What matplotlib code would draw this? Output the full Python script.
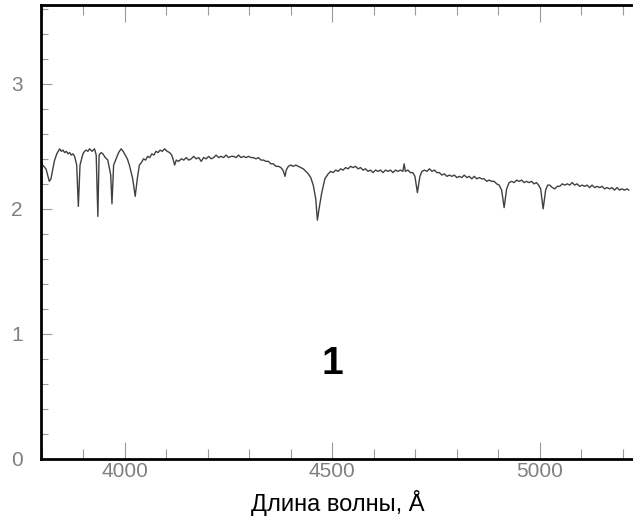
import matplotlib
matplotlib.use("Agg")
import matplotlib.pyplot as plt
from matplotlib.ticker import MultipleLocator

# spectrum (wavelength in A, flux)
wave = [3798, 3802, 3810, 3818, 3822, 3830, 3836, 3843, 3847, 3851, 3855, 3859, 3863,
        3867, 3871, 3875, 3879, 3884, 3888, 3892, 3899, 3903, 3907, 3911, 3915, 3921,
        3927, 3931, 3935, 3938, 3943, 3947, 3953, 3959, 3966, 3969, 3973, 3979, 3985,
        3991, 3996, 4001, 4006, 4011, 4019, 4025, 4030, 4035, 4040, 4045, 4050, 4055,
        4060, 4065, 4070, 4075, 4080, 4085, 4090, 4096, 4102, 4108, 4113, 4116, 4120,
        4124, 4130, 4136, 4142, 4148, 4154, 4160, 4166, 4172, 4178, 4184, 4190, 4196,
        4202, 4208, 4214, 4220, 4226, 4232, 4238, 4244, 4250, 4256, 4262, 4268, 4274,
        4280, 4286, 4292, 4298, 4304, 4310, 4316, 4322, 4328, 4334, 4340, 4346, 4352,
        4358, 4364, 4370, 4376, 4381, 4386, 4389, 4394, 4400, 4406, 4412, 4418, 4424,
        4430, 4436, 4442, 4448, 4454, 4460, 4464, 4468, 4474, 4482, 4490, 4496, 4502,
        4508, 4514, 4520, 4526, 4532, 4538, 4544, 4550, 4556, 4562, 4568, 4574, 4580,
        4586, 4592, 4598, 4604, 4610, 4616, 4622, 4628, 4634, 4640, 4646, 4652, 4658,
        4664, 4670, 4673, 4676, 4682, 4688, 4694, 4699, 4705, 4711, 4716, 4722, 4728,
        4734, 4740, 4746, 4752, 4758, 4764, 4770, 4776, 4782, 4788, 4794, 4800, 4806,
        4812, 4818, 4824, 4830, 4836, 4842, 4848, 4854, 4860, 4866, 4872, 4878, 4884,
        4890, 4896, 4902, 4908, 4914, 4920, 4926, 4932, 4938, 4944, 4950, 4956, 4962,
        4968, 4974, 4980, 4986, 4992, 4997, 5002, 5008, 5014, 5019, 5024, 5030, 5036,
        5042, 5048, 5054, 5060, 5066, 5072, 5078, 5084, 5090, 5096, 5102, 5108, 5114,
        5120, 5126, 5132, 5138, 5144, 5150, 5156, 5162, 5168, 5174, 5180, 5186, 5192,
        5198, 5204, 5210, 5214]
flux = [2.39, 2.35, 2.32, 2.22, 2.24, 2.38, 2.44, 2.48, 2.46, 2.47, 2.45, 2.46, 2.44,
        2.45, 2.43, 2.44, 2.42, 2.35, 2.02, 2.35, 2.44, 2.46, 2.47, 2.46, 2.48, 2.46,
        2.48, 2.43, 1.94, 2.43, 2.45, 2.44, 2.41, 2.39, 2.27, 2.04, 2.35, 2.40, 2.45,
        2.48, 2.46, 2.43, 2.40, 2.35, 2.24, 2.10, 2.24, 2.35, 2.37, 2.40, 2.39, 2.42,
        2.41, 2.44, 2.43, 2.46, 2.45, 2.47, 2.46, 2.48, 2.46, 2.45, 2.43, 2.40, 2.35,
        2.39, 2.38, 2.40, 2.39, 2.41, 2.39, 2.40, 2.42, 2.40, 2.41, 2.38, 2.41, 2.40,
        2.42, 2.40, 2.41, 2.43, 2.41, 2.42, 2.41, 2.43, 2.41, 2.42, 2.42, 2.41, 2.43,
        2.41, 2.42, 2.41, 2.42, 2.41, 2.41, 2.40, 2.41, 2.39, 2.39, 2.38, 2.38, 2.36,
        2.36, 2.34, 2.34, 2.33, 2.31, 2.26, 2.31, 2.34, 2.35, 2.34, 2.35, 2.34, 2.33,
        2.32, 2.30, 2.28, 2.25, 2.19, 2.08, 1.91, 2.00, 2.12, 2.24, 2.28, 2.30, 2.29,
        2.31, 2.30, 2.32, 2.31, 2.33, 2.32, 2.34, 2.33, 2.34, 2.32, 2.33, 2.31, 2.32,
        2.30, 2.31, 2.29, 2.31, 2.30, 2.31, 2.29, 2.31, 2.30, 2.31, 2.29, 2.31, 2.30,
        2.31, 2.30, 2.36, 2.30, 2.31, 2.29, 2.29, 2.26, 2.13, 2.26, 2.30, 2.31, 2.30,
        2.32, 2.30, 2.31, 2.29, 2.29, 2.27, 2.28, 2.26, 2.27, 2.26, 2.27, 2.25, 2.26,
        2.25, 2.27, 2.25, 2.26, 2.24, 2.26, 2.24, 2.25, 2.24, 2.24, 2.22, 2.23, 2.22,
        2.22, 2.20, 2.19, 2.15, 2.01, 2.16, 2.21, 2.22, 2.21, 2.23, 2.22, 2.23, 2.21,
        2.22, 2.21, 2.22, 2.20, 2.21, 2.19, 2.16, 2.00, 2.15, 2.19, 2.19, 2.17, 2.16,
        2.18, 2.18, 2.20, 2.19, 2.20, 2.19, 2.21, 2.19, 2.20, 2.18, 2.19, 2.18, 2.19,
        2.17, 2.19, 2.17, 2.18, 2.17, 2.18, 2.16, 2.17, 2.16, 2.17, 2.15, 2.17, 2.15,
        2.16, 2.15, 2.16, 2.15]

x_ticks = [4000, 4500, 5000]
y_ticks = [0, 1, 2, 3]
x_label = "Длина волны, Å"
panel_label = "1"

W, H = 633, 526
fig = plt.figure(figsize=(W / 100, H / 100), dpi=100)
ax = fig.add_axes([41 / W, (H - 459) / H, (W - 41) / W, (459 - 5) / H])

ax.plot(wave, flux, color="#404040", lw=1.0)

ax.set_xlim(3798, 5224.5)
ax.set_ylim(0, 3.63)

ax.set_xticks(x_ticks)
ax.set_yticks(y_ticks)
ax.xaxis.set_minor_locator(MultipleLocator(100))
ax.yaxis.set_minor_locator(MultipleLocator(0.2))

tick_col = "#9a9a9a"
ax.tick_params(axis="x", which="both", direction="in", top=True, colors=tick_col,
               labelcolor="#808080", labelsize=15, pad=2)
ax.tick_params(axis="y", which="both", direction="in", colors=tick_col,
               labelcolor="#808080", labelsize=15, pad=13)
ax.tick_params(axis="x", which="major", length=12, width=0.8)
ax.tick_params(axis="x", which="minor", length=7, width=0.8)
ax.tick_params(axis="y", which="major", length=8, width=0.8)
ax.tick_params(axis="y", which="minor", length=5, width=0.8)
for lab in ax.get_xticklabels() + ax.get_yticklabels():
    lab.set_family("Liberation Sans")

for side in ["left", "bottom", "top"]:
    ax.spines[side].set_linewidth(2.0)
    ax.spines[side].set_color("black")
ax.spines["right"].set_visible(False)

fig.text(338 / W, 1 - 503 / H, x_label, ha="center", va="center",
         fontsize=17, family="Liberation Sans", color="black")
ax.text(4500, 0.76, panel_label, ha="center", va="center", fontsize=28,
        fontweight="bold", family="Liberation Sans", color="black")

fig.savefig("out.png", dpi=100, facecolor="white")
